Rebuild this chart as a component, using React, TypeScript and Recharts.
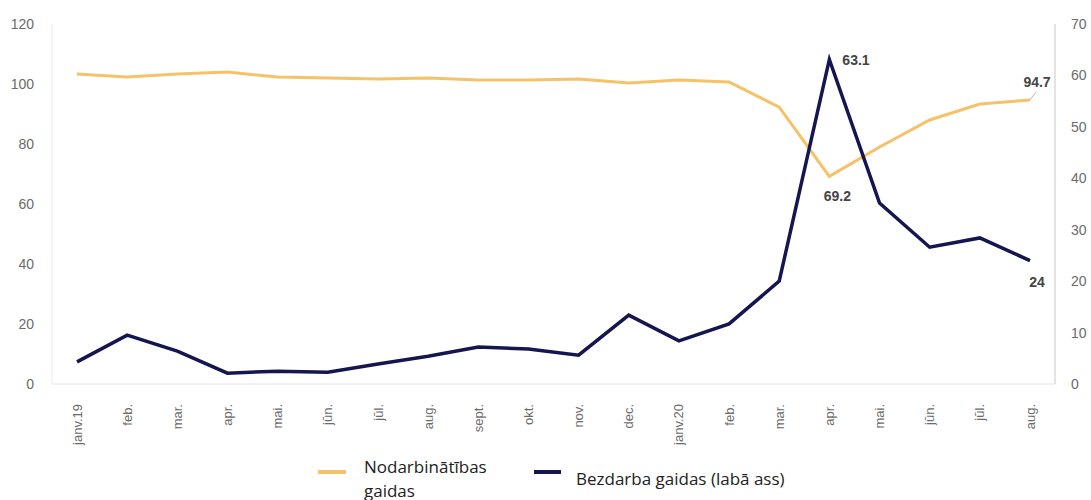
import { LineChart, Line, XAxis, YAxis, LabelList, Legend } from 'recharts';

const months = [
  'janv.19', 'feb.', 'mar.', 'apr.', 'mai.', 'jūn.', 'jūl.', 'aug.', 'sept.', 'okt.',
  'nov.', 'dec.', 'janv.20', 'feb.', 'mar.', 'apr.', 'mai.', 'jūn.', 'jūl.', 'aug.',
];

// Nodarbinātības gaidas (kreisā ass)
const employment = [
  103.3, 102.3, 103.3, 104, 102.3, 102, 101.7, 102, 101.3, 101.3,
  101.7, 100.3, 101.3, 100.7, 92.3, 69.2, 79, 88, 93.3, 94.7,
];

// Bezdarba gaidas (labā ass)
const unemployment = [
  4.3, 9.5, 6.4, 2.1, 2.5, 2.3, 3.9, 5.4, 7.2, 6.8,
  5.6, 13.4, 8.4, 11.7, 20, 63.1, 35.2, 26.6, 28.4, 24,
];

const leftTicks = [0, 20, 40, 60, 80, 100, 120];
const rightTicks = [0, 10, 20, 30, 40, 50, 60, 70];

const data = months.map((m, i) => ({
  month: m,
  employment: employment[i],
  unemployment: unemployment[i],
}));

const YELLOW = '#F5C26A';
const NAVY = '#15154F';
const TICK = '#6b6b6b';
const FONT = '"Liberation Sans", Arial, sans-serif';

const MonthTick = (props: any) => {
  const { x, y, payload } = props;
  return (
    <text
      x={0}
      y={0}
      transform={`translate(${x},${y + 12}) rotate(-90)`}
      textAnchor="end"
      dy="0.35em"
      fill={TICK}
      fontSize={13}
      fontFamily={FONT}
    >
      {payload.value}
    </text>
  );
};

const employmentLabel = (props: any) => {
  const { x, y, index, value } = props;
  if (index === 15) {
    return (
      <text x={x + 8} y={y + 25} textAnchor="middle" fill="#444" fontSize={14} fontWeight="bold" fontFamily={FONT}>
        {value}
      </text>
    );
  }
  if (index === data.length - 1) {
    return (
      <g>
        <line x1={x} y1={y} x2={x + 6} y2={y - 8} stroke="#bbb" strokeWidth={1} />
        <text x={x + 7} y={y - 13} textAnchor="middle" fill="#444" fontSize={14} fontWeight="bold" fontFamily={FONT}>
          {value}
        </text>
      </g>
    );
  }
  return null;
};

const unemploymentLabel = (props: any) => {
  const { x, y, index, value } = props;
  if (index === 15) {
    return (
      <text x={x + 13} y={y + 6} textAnchor="start" fill="#444" fontSize={14} fontWeight="bold" fontFamily={FONT}>
        {value}
      </text>
    );
  }
  if (index === data.length - 1) {
    return (
      <text x={x + 7} y={y + 26} textAnchor="middle" fill="#444" fontSize={14} fontWeight="bold" fontFamily={FONT}>
        {value}
      </text>
    );
  }
  return null;
};

const LegendBox = () => (
  <div style={{ position: 'relative', height: 50, fontFamily: '"Open Sans", sans-serif', fontSize: 17, color: '#222' }}>
    <div style={{ position: 'absolute', left: 318, top: 20, width: 28, height: 4, background: YELLOW }} />
    <div style={{ position: 'absolute', left: 364, top: 5, lineHeight: '24px' }}>
      Nodarbinātības
      <br />
      gaidas
    </div>
    <div style={{ position: 'absolute', left: 534, top: 20, width: 27, height: 4, background: NAVY }} />
    <div style={{ position: 'absolute', left: 576, top: 17, lineHeight: '24px' }}>Bezdarba gaidas (labā ass)</div>
  </div>
);

export default function App() {
  return (
    <div style={{ position: 'absolute', left: 0, top: 0, background: '#fff' }}>
      <LineChart width={1091} height={500} data={data} margin={{ top: 24, right: 0, left: 0, bottom: 0 }}>
        <XAxis
          dataKey="month"
          interval={0}
          tick={<MonthTick />}
          tickLine={false}
          axisLine={{ stroke: '#e4e4e4' }}
          padding={{ left: 25, right: 25 }}
          height={66}
        />
        <YAxis
          yAxisId="left"
          domain={[0, 120]}
          ticks={leftTicks}
          width={52}
          tickLine={false}
          axisLine={{ stroke: '#ececec' }}
          tick={{ fill: TICK, fontSize: 14, fontFamily: FONT }}
          tickMargin={12}
        />
        <YAxis
          yAxisId="right"
          orientation="right"
          domain={[0, 70]}
          ticks={rightTicks}
          width={36}
          tickLine={false}
          axisLine={{ stroke: '#c8c8c8' }}
          tick={{ fill: TICK, fontSize: 14, fontFamily: FONT, textAnchor: 'start' }}
          tickMargin={10}
        />
        <Legend verticalAlign="bottom" content={<LegendBox />} wrapperStyle={{ left: 0, width: 1091, bottom: 0, height: 50 }} />
        <Line
          yAxisId="left"
          type="linear"
          dataKey="employment"
          stroke={YELLOW}
          strokeWidth={3}
          dot={false}
          isAnimationActive={false}
        >
          <LabelList dataKey="employment" content={employmentLabel} />
        </Line>
        <Line
          yAxisId="right"
          type="linear"
          dataKey="unemployment"
          stroke={NAVY}
          strokeWidth={3.5}
          dot={false}
          isAnimationActive={false}
        >
          <LabelList dataKey="unemployment" content={unemploymentLabel} />
        </Line>
      </LineChart>
    </div>
  );
}
